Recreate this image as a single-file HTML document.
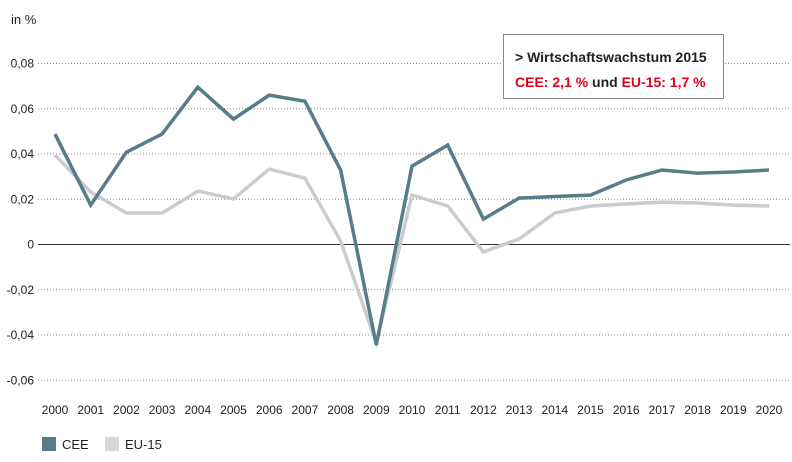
<!DOCTYPE html>
<html><head><meta charset="utf-8"><style>
body{margin:0;background:#fff;}
svg{display:block;font-family:"Liberation Sans Narrow","Liberation Sans",sans-serif;}
</style></head><body>
<svg width="792" height="462">
<g id="grid"></g><g id="axes"></g><g id="series"></g>
<text x="11" y="24" font-size="13" fill="#222">in %</text>
<g>
<rect x="503.5" y="34.5" width="220" height="64" fill="#fff" stroke="#888"/>
<text x="515" y="62" font-size="14" font-weight="bold" fill="#222">&gt; Wirtschaftswachstum 2015</text>
<text x="515" y="87" font-size="14" font-weight="bold" fill="#e2001a">CEE: 2,1 % <tspan fill="#222">und</tspan> EU-15: 1,7 %</text>
</g>
<g>
<rect x="42" y="437" width="14" height="14" fill="#567d8a"/>
<text x="62" y="449" font-size="13" fill="#222">CEE</text>
<rect x="105" y="437" width="14" height="14" fill="#d4d8db"/>
<text x="125" y="449" font-size="13" fill="#222">EU-15</text>
</g>
</svg>
<script>
const years=[2000,2001,2002,2003,2004,2005,2006,2007,2008,2009,2010,2011,2012,2013,2014,2015,2016,2017,2018,2019,2020];
const cee=[0.0486,0.0172,0.0406,0.0486,0.0693,0.0552,0.0658,0.0631,0.0327,-0.0446,0.0344,0.0437,0.011,0.0203,0.021,0.0216,0.0283,0.0327,0.0313,0.0318,0.0327];
const eu15=[0.0393,0.023,0.0137,0.0137,0.0234,0.0199,0.0331,0.0291,0.0013,-0.0437,0.0216,0.0168,-0.0035,0.0022,0.0137,0.0168,0.0177,0.0185,0.0181,0.0172,0.0168];
const yTicks=[0.08,0.06,0.04,0.02,0,-0.02,-0.04,-0.06];
const yTickLabels=["0,08","0,06","0,04","0,02","0","-0,02","-0,04","-0,06"];
const NS="http://www.w3.org/2000/svg";
const x=i=>55+i*(769-55)/(years.length-1);
const y=v=>244-v*(45.25/0.02);
function mk(tag,attrs,parent,txt){const e=document.createElementNS(NS,tag);for(const k in attrs)e.setAttribute(k,attrs[k]);if(txt!==undefined)e.textContent=txt;parent.appendChild(e);return e;}
const grid=document.getElementById('grid'),axes=document.getElementById('axes'),ser=document.getElementById('series');
yTicks.forEach((t,i)=>{
  const l=mk('line',{x1:38,x2:790,y1:y(t)+0.5,y2:y(t)+0.5,stroke:t===0?'#333':'#888','stroke-width':1,'stroke-dasharray':t===0?'none':'1 2'},grid);
  
  
  const tx=mk('text',{x:34,y:y(t)+4.5,'font-size':12,'text-anchor':'end',fill:'#222'},axes,yTickLabels[i]);
  
  
});
years.forEach((yr,i)=>{
  const tx=mk('text',{x:x(i),y:414,'font-size':12,'text-anchor':'middle',fill:'#222'},axes,String(yr));
  
  
});
function line(vals,color,name){
  const p=mk('polyline',{points:vals.map((v,i)=>x(i)+','+y(v)).join(' '),fill:'none',stroke:color,'stroke-width':3.5,'stroke-linejoin':'miter'},ser);
  
  
}
line(eu15,'#c9cdd0','eu15-line');
line(cee,'#567d8a','cee-line');
</script>
</body></html>
